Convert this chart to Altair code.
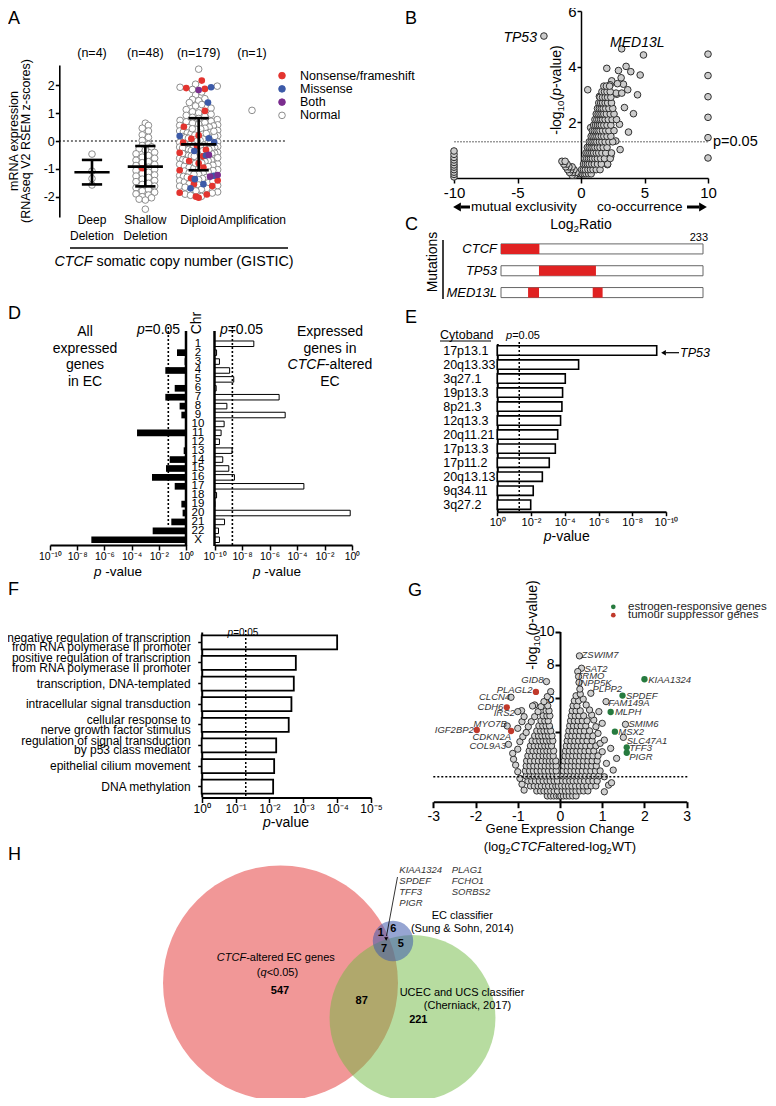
import altair as alt
import pandas as pd

W, H = 760, 1090
def px(v): return v - 8.0
def py(v): return v - 8.0
FONT = "Liberation Sans"

# ================= DATA =================
# ---- Panel A
A_groups = ["Deep Deletion", "Shallow Deletion", "Diploid", "Amplification"]
A_labels = ["Deep\nDeletion", "Shallow\nDeletion", "Diploid", "Amplification"]
A_counts = ["(n=4)", "(n=48)", "(n=179)", "(n=1)"]
A_mean = [-1.12, -0.92, -0.12]
A_sd_hi = [-0.68, -0.18, 0.82]
A_sd_lo = [-1.56, -1.63, -1.05]
A_legend = ["Nonsense/frameshift", "Missense", "Both", "Normal"]
A_colors = ["#e3342f", "#3c5aa8", "#7b2d8e", "#ffffff"]
A_deep_normal = [-0.47, -1.08, -1.35, -1.58]
A_shallow_normal = [0.64, 0.56, 0.46, 0.36, 0.22, 0.13, 0.02, -0.12, -0.16, -0.21, -0.28, -0.33,
                    -0.41, -0.46, -0.52, -0.58, -0.62, -0.69, -0.74, -0.78, -0.84, -0.88, -0.94,
                    -1.02, -1.06, -1.12, -1.17, -1.22, -1.26, -1.31, -1.37, -1.42, -1.46, -1.52,
                    -1.56, -1.62, -1.68, -1.74, -1.79, -1.84, -1.9, -1.94, -2.0, -2.04, -2.09,
                    -2.12, -2.45]
A_shallow_nonsense = [-0.98]
A_diploid_nonsense = [2.17, 1.9, 1.87, 1.08, 0.51, 0.2, 0.08, -0.06, -0.18, -0.32, -0.42, -0.55,
                      -0.72, -0.8, -0.95, -1.05, -1.34, -1.42, -1.55, -1.62, -1.86, -1.92, -2.0, -2.04]
A_diploid_missense = [1.93, 1.38, 0.18, 0.1, -0.05, -0.36, -0.52, -1.25, -1.37, -1.55, -1.7]
A_diploid_both = [1.83, -0.5, -1.22, -1.28]
A_diploid_normal = [2.58, 2.04, 1.97, 1.93, 1.85, 1.76, 1.65, 1.52, 1.49, 1.45, 1.38, 1.31, 1.26,
                    1.18, 1.13, 1.05, 1.01, 0.96, 0.92, 0.88, 0.85, 0.81, 0.77, 0.74,
                    0.71, 0.69, 0.66, 0.64, 0.61, 0.58, 0.56, 0.54, 0.5, 0.48, 0.46, 0.43, 0.41,
                    0.38, 0.36, 0.33, 0.31, 0.29, 0.26, 0.24, 0.21, 0.19, 0.16, 0.14, 0.12, 0.09,
                    0.07, 0.05, 0.02, 0.0, -0.03, -0.05, -0.08, -0.1, -0.13, -0.15, -0.17, -0.2,
                    -0.22, -0.24, -0.27, -0.29, -0.31, -0.34, -0.37, -0.39, -0.41, -0.44, -0.46,
                    -0.49, -0.52, -0.54, -0.57, -0.59, -0.62, -0.64, -0.67, -0.69, -0.71, -0.74,
                    -0.77, -0.79, -0.82, -0.84, -0.87, -0.9, -0.92, -0.95, -0.97, -1.0, -1.03,
                    -1.06, -1.08, -1.11, -1.14, -0.25, -0.35, -0.45, -0.06, 0.17, 0.27, -0.6,
                    -0.7, -0.15, 0.35, 0.44, -0.8, -0.55, 0.1, -0.3,
                    -1.17, -1.2, -1.24, -1.27, -1.31, -1.35, -1.39, -1.43, -1.47, -1.5, -1.54,
                    -1.58, -1.62, -1.66, -1.7, -1.74, -1.79, -1.83, -1.87, -1.91, -1.95, -1.99,
                    -1.45, -1.3, -1.6, -1.2]
A_amp_normal = [1.1]

# ---- Panel B (log2 ratio, -log10 p)
B_points = [(-10, 0.04), (-10, 0.13), (-10, 0.21), (-10, 0.3), (-10, 0.39), (-10, 0.47),
            (-10, 0.56), (-10, 0.65), (-10, 0.74), (-10, 0.85), (-10, 0.97),
            (10, 4.45), (10, 3.68), (10, 2.92), (10, 2.18), (10, 1.45), (10, 0.72),
            (-2.92, 5.1), (3.2, 4.64), (4.92, 4.42), (2.03, 3.94), (3.55, 4.01), (3.92, 3.82),
            (2.95, 3.86), (4.66, 3.70), (3.16, 3.6), (2.42, 3.49), (3.34, 3.37), (3.68, 3.17),
            (0.53, 3.17), (4.45, 2.99), (2.82, 3.01), (3.42, 2.53), (4.13, 2.31), (3.03, 1.93),
            (3.74, 1.65), (2.74, 1.33), (3.08, 1.02), (2.08, 0.48), (2.34, 0.78), (1.71, 0.9),
            (0.76, 1.81), (2.29, 3.35), (2.87, 3.39), (1.45, 2.93), (1.97, 3.11), (2.76, 3.05),
            (3.21, 3.05), (1.89, 3.17), (2.16, 3.29)]
B_rows = [(0.15, [-0.35, -0.2, -0.05, 0.1, 0.25, 0.4, 0.6, 0.8]),
          (0.3, [0.05, 0.2, 0.35, 0.55, 0.75, 0.95, 1.2, 1.5]),
          (0.5, [0.2, 0.35, 0.5, 0.65, 0.85, 1.05, 1.3, 1.6, 2.1]),
          (0.7, [0.3, 0.45, 0.6, 0.75, 0.9, 1.1, 1.3, 1.55, 1.85, 2.3]),
          (0.9, [0.4, 0.55, 0.7, 0.85, 1.0, 1.2, 1.4, 1.65, 1.95, 2.4]),
          (1.1, [0.5, 0.65, 0.8, 0.95, 1.1, 1.3, 1.5, 1.75, 2.05]),
          (1.3, [0.65, 0.8, 0.95, 1.1, 1.25, 1.45, 1.65, 1.9, 2.2, 2.5]),
          (1.5, [0.8, 0.95, 1.1, 1.25, 1.4, 1.6, 1.8, 2.05, 2.35]),
          (1.7, [0.9, 1.05, 1.2, 1.35, 1.5, 1.7, 1.95, 2.2, 2.6]),
          (1.9, [1.0, 1.15, 1.3, 1.45, 1.6, 1.8, 2.05, 2.35]),
          (2.1, [1.1, 1.25, 1.4, 1.55, 1.7, 1.9, 2.15, 2.45, 2.8]),
          (2.3, [1.2, 1.35, 1.5, 1.65, 1.8, 2.0, 2.3, 2.6]),
          (2.5, [1.3, 1.45, 1.6, 1.75, 1.95, 2.2, 2.5]),
          (2.7, [1.4, 1.55, 1.7, 1.9, 2.1, 2.4]),
          (2.9, [1.5, 1.7, 1.9, 2.1, 2.35]),
          (3.1, [1.65, 1.85, 2.05, 2.3]),
          (3.3, [1.8, 2.0, 2.25]),
          (0.1, [-0.5, -0.7]),
          (0.2, [-0.4, -0.65, -0.9]),
          (0.3, [-0.55, -0.8, -1.05]),
          (0.4, [-0.7, -0.95, -1.2]),
          (0.5, [-1.1, -1.35]),
          (0.6, [-1.5, -1.25])]
B_labels = [("TP53", -3.47, 5.04, "right"), ("MED13L", 2.29, 4.86, "left")]

# ---- Panel C (mutation positions, % of protein length)
C_genes = ["CTCF", "TP53", "MED13L"]
C_segments = [("CTCF", 0, 19), ("TP53", 18.8, 47), ("MED13L", 13.4, 18.8), ("MED13L", 45.4, 50.3)]

# ---- Panel D (log10 p-values per chromosome)
D_chr = [str(i) for i in range(1, 23)] + ["X"]
D_all_exp = [-0.02, -0.66, -0.1, -1.52, -0.05, -0.83, -1.52, -0.47, -0.34, -0.02, -3.6, -0.02,
             -0.17, -1.2, -1.47, -2.5, -0.83, -0.02, -0.34, -0.25, -1.08, -2.45, -6.96]
D_ctcf_exp = [-7.14, -9.85, -9.64, -8.9, -8.6, -9.88, -5.3, -9.1, -4.86, -9.3, -9.52, -9.64,
              -8.72, -9.4, -8.96, -8.55, -3.5, -9.85, -9.97, -0.13, -9.27, -9.71, -9.64]

# ---- Panel E
E_bands = ["17p13.1", "20q13.33", "3q27.1", "19p13.3", "8p21.3", "12q13.3", "20q11.21",
           "17p13.3", "17p11.2", "20q13.13", "9q34.11", "3q27.2"]
E_exp = [-9.45, -4.82, -4.03, -3.87, -3.83, -3.75, -3.58, -3.44, -3.08, -2.67, -2.13, -1.98]

# ---- Panel F
F_terms = ["negative regulation of transcription|from RNA polymerase II promoter",
           "positive regulation of transcription|from RNA polymerase II promoter",
           "transcription, DNA-templated",
           "intracellular signal transduction",
           "cellular response to|nerve growth factor stimulus",
           "regulation of signal transduction|by p53 class mediator",
           "epithelial cilium movement",
           "DNA methylation"]
F_exp = [-4.0, -2.78, -2.72, -2.65, -2.57, -2.2, -2.14, -2.11]

# ---- Panel G (log2 fold change, -log10 p)
G_rows = [(0.15, [-0.3, -0.22, -0.15, -0.08, -0.02, 0.02, 0.08, 0.15, 0.22, 0.3, 0.38]),
          (0.45, [-0.55, -0.46, -0.38, -0.3, -0.22, -0.14, -0.06, 0.05, 0.13, 0.21, 0.3, 0.38, 0.47, 0.56, 0.66]),
          (0.75, [-0.7, -0.61, -0.52, -0.44, -0.35, -0.27, -0.18, -0.1, -0.04, 0.04, 0.12, 0.2, 0.28, 0.37, 0.46, 0.55, 0.64, 0.74, 0.85]),
          (1.05, [-0.76, -0.67, -0.58, -0.49, -0.4, -0.31, -0.23, -0.14, -0.06, 0.06, 0.14, 0.23, 0.31, 0.4, 0.49, 0.58, 0.68, 0.78, 0.88]),
          (1.35, [-0.8, -0.7, -0.61, -0.52, -0.43, -0.34, -0.25, -0.16, -0.07, 0.07, 0.16, 0.25, 0.34, 0.43, 0.52, 0.61, 0.71, 0.81, 0.92]),
          (1.65, [-0.82, -0.72, -0.63, -0.54, -0.45, -0.36, -0.27, -0.18, -0.09, 0.08, 0.17, 0.26, 0.35, 0.44, 0.53, 0.63, 0.73, 0.84, 0.95]),
          (1.95, [-0.8, -0.71, -0.62, -0.53, -0.44, -0.35, -0.26, -0.17, -0.09, 0.09, 0.18, 0.27, 0.36, 0.45, 0.55, 0.65, 0.75, 0.86]),
          (2.25, [-0.79, -0.7, -0.6, -0.51, -0.42, -0.33, -0.25, -0.17, -0.1, 0.1, 0.19, 0.28, 0.37, 0.46, 0.56, 0.66, 0.76, 0.88]),
          (2.55, [-0.76, -0.67, -0.58, -0.49, -0.4, -0.32, -0.24, -0.16, 0.12, 0.21, 0.3, 0.39, 0.48, 0.57, 0.67, 0.78, 0.9]),
          (2.85, [-0.73, -0.64, -0.55, -0.47, -0.39, -0.31, -0.23, -0.15, 0.13, 0.22, 0.31, 0.4, 0.49, 0.59, 0.69, 0.8]),
          (3.15, [-0.7, -0.61, -0.52, -0.44, -0.36, -0.28, -0.2, 0.15, 0.24, 0.33, 0.42, 0.51, 0.61, 0.72, 0.85]),
          (3.45, [-0.66, -0.57, -0.48, -0.4, -0.32, -0.24, -0.17, 0.17, 0.26, 0.35, 0.44, 0.54, 0.64, 0.76]),
          (3.75, [-0.6, -0.51, -0.43, -0.35, -0.27, -0.19, 0.19, 0.28, 0.37, 0.46, 0.56, 0.67, 0.78]),
          (4.05, [-0.55, -0.46, -0.38, -0.3, -0.22, 0.21, 0.3, 0.39, 0.48, 0.58, 0.7]),
          (4.35, [-0.5, -0.41, -0.33, -0.25, 0.23, 0.32, 0.41, 0.5, 0.61]),
          (4.65, [-0.45, -0.36, -0.28, 0.25, 0.34, 0.43, 0.53, 0.64]),
          (4.95, [-0.4, -0.31, -0.24, 0.27, 0.36, 0.45, 0.56]),
          (5.25, [-0.33, -0.26, 0.29, 0.38, 0.48]),
          (5.55, [-0.29, 0.31, 0.4]),
          (5.85, [0.34, 0.44]),
          (6.15, [0.38])]
G_outer = [(-0.85, 0.5), (-0.9, 0.85), (-0.95, 1.2), (-1.0, 1.6), (-1.05, 2.0), (-1.1, 2.35),
           (-1.12, 2.7), (-1.0, 2.95), (-0.95, 3.4), (-0.88, 3.7), (-0.8, 3.95), (-0.75, 4.3),
           (-0.68, 4.6), (-0.6, 4.9), (-0.52, 5.2), (-0.45, 5.5), (-0.38, 5.8), (-0.3, 6.1),
           (-0.22, 6.4), (-0.9, 4.6), (-0.85, 4.9), (-1.0, 4.2), (-0.6, 5.6),
           (1.05, 0.4), (1.15, 0.8), (1.22, 0.94), (1.26, 1.7), (1.34, 2.4), (1.1, 2.1),
           (1.05, 1.3), (1.0, 2.8), (0.95, 3.3), (1.05, 3.5), (0.9, 3.9), (0.85, 4.3),
           (0.8, 4.7), (0.75, 5.0), (0.7, 5.3), (0.62, 5.6), (0.55, 5.95), (0.48, 6.25),
           (1.2, 3.0), (1.0, 4.5), (0.92, 5.2),
           (0.46, 8.54), (0.51, 7.8), (0.42, 7.6), (0.44, 7.3), (0.45, 6.95), (0.47, 6.55),
           (0.73, 6.3), (1.09, 5.8), (1.55, 4.44), (1.5, 3.66), (-0.32, 7.0), (-1.16, 6.06),
           (-0.91, 5.26), (-1.0, 5.2), (-0.65, 5.54), (-1.25, 4.34), (-1.22, 3.24)]
G_estrogen = [(2.0, 7.14), (1.48, 6.16), (1.2, 5.18), (1.3, 4.0), (1.58, 3.06), (1.58, 2.74)]
G_suppressor = [(-0.57, 6.38), (-1.26, 5.46), (-1.97, 4.1), (-1.16, 4.04)]
G_labels = [("ZSWIM7", 0.51, 8.6, "left"), ("SAT2", 0.58, 7.76, "left"), ("TRMO", 0.39, 7.34, "left"),
            ("INPP5K", 0.42, 6.9, "left"), ("PLPP2", 0.77, 6.54, "left"), ("KIAA1324", 2.09, 7.1, "left"),
            ("SPDEF", 1.56, 6.16, "left"), ("FAM149A", 1.14, 5.7, "left"), ("MLPH", 1.3, 5.2, "left"),
            ("SMIM6", 1.62, 4.44, "left"), ("MSX2", 1.38, 3.96, "left"), ("SLC47A1", 1.58, 3.46, "left"),
            ("TFF3", 1.64, 3.0, "left"), ("PIGR", 1.64, 2.5, "left"),
            ("GID8", -0.39, 7.1, "right"), ("PLAGL2", -0.65, 6.5, "right"), ("CLCN4", -1.18, 6.06, "right"),
            ("CDH6", -1.34, 5.46, "right"), ("IRS2", -1.07, 5.1, "right"), ("MYO7B", -1.26, 4.44, "right"),
            ("IGF2BP2", -2.04, 4.1, "right"), ("CDKN2A", -1.16, 3.7, "right"), ("COL9A3", -1.28, 3.14, "right")]
G_legend = ["estrogen-responsive genes", "tumour suppressor genes"]
G_colors = ["#267a3e", "#c0392b"]

# ---- Panel H (Venn counts)
H_sets = ["CTCF-altered EC genes", "UCEC and UCS classifier", "EC classifier"]
H_set_totals = [547 + 87 + 7 + 1, 221 + 87 + 7 + 5, 1 + 6 + 7 + 5]
H_region_counts = [547, 87, 221, 1, 6, 5, 7]
H_genes_a = ["KIAA1324", "SPDEF", "TFF3", "PIGR"]
H_genes_b = ["PLAG1", "FCHO1", "SORBS2"]

# ================= layout helpers =================
def lin(domain, rng):
    return alt.Scale(domain=domain, range=rng, nice=False, zero=False)

def logsc(domain, rng):
    return alt.Scale(type="log", domain=domain, range=rng, nice=False)

def bandsc(domain, rng, p):
    return alt.Scale(domain=domain, range=rng, paddingInner=p, paddingOuter=p / 2)

AXBASE = dict(grid=False, domainColor="black", tickColor="black", labelColor="black",
              labelFont=FONT, title=None, labelOverlap=False, labelFlush=False, labelBound=False)

def axis_left(xpix, **kw):
    d = dict(AXBASE); d.update(orient="left", offset=-px(xpix)); d.update(kw)
    return alt.Axis(**d)

def axis_bottom(ypix, **kw):
    d = dict(AXBASE); d.update(orient="bottom", offset=py(ypix) - H); d.update(kw)
    return alt.Axis(**d)

SUP = str.maketrans("-0123456789", "\u207b\u2070\u00b9\u00b2\u00b3\u2074\u2075\u2076\u2077\u2078\u2079")
def pow_expr(exps):
    e = "''"
    for k in exps:
        e = "(abs(log(datum.value)/LN10 - (%d)) < 0.01 ? '10%s' : %s)" % (k, str(k).translate(SUP), e)
    return e

PLAIN = "'' + datum.value"

CW = {' ': .278, '!': .278, '(': .333, ')': .333, '-': .333, '.': .278, ',': .278, '/': .278,
      '=': .584, '<': .584, '&': .667}
for ch in "0123456789": CW[ch] = .556
CW.update(dict(A=.667, B=.667, C=.722, D=.722, E=.667, F=.611, G=.778, H=.722, I=.278, J=.5, K=.667,
               L=.556, M=.833, N=.722, O=.778, P=.667, Q=.778, R=.722, S=.667, T=.611, U=.722, V=.667,
               W=.944, X=.667, Y=.667, Z=.611, a=.556, b=.556, c=.5, d=.556, e=.556, f=.278, g=.556,
               h=.556, i=.222, j=.222, k=.5, l=.222, m=.833, n=.556, o=.556, p=.556, q=.556, r=.333,
               s=.5, t=.278, u=.556, v=.5, w=.722, x=.5, y=.5, z=.5))
def tw(s, size):
    return sum(CW.get(c, .556) for c in s) * size

ANN = {}
def T(text, x, y, size=12, italic=False, bold=False, align="center", baseline="middle",
      angle=0, lh=None, color="black"):
    key = (italic, bold, align, baseline, lh, color)
    ANN.setdefault(key, []).append(dict(text=text, x=px(x), y=py(y), size=size, angle=angle))

def M(parts, x, y, size, align="center", angle=0):
    norm = []
    for p in parts:
        sc = p[2] if len(p) > 2 else 1.0
        dy = p[3] if len(p) > 3 else 0.0
        norm.append((p[0], p[1], size * sc, dy))
    total = sum(tw(t, s) for t, it, s, dy in norm)
    u = -total / 2 if align == "center" else (-total if align == "right" else 0)
    for t, it, s, dy in norm:
        lead = len(t) - len(t.lstrip(" "))
        uu = u + tw(" " * lead, s)
        if angle == 0:
            X, Y = x + uu, y + dy
        else:
            X, Y = x + dy, y - uu
        T(t.strip(" "), X, Y, size=s, italic=it, align="left", angle=angle)
        u += tw(t, s)

RULES = []
def R(x1, y1, x2, y2, w=1.0, color="black"):
    RULES.append(dict(x=px(x1), y=py(y1), x2=px(x2), y2=py(y2), w=w, c=color))

TRI = []
def TR(x, y, shape, size):
    TRI.append(dict(x=px(x), y=py(y), shape=shape, size=size))

layers = []
P = lambda f: alt.X(f, scale=None, axis=None)
Q = lambda f: alt.Y(f, scale=None, axis=None)

# ================= Panel A =================
xA = lin([0, 3], [px(92), px(252)])
yA = lin([-2.73, 2.73], [py(217), py(65)])
rowsA = []
def addA(ci, vals, typ):
    for v in vals:
        rowsA.append(dict(ci=ci, v=v, t=typ))
addA(0, A_deep_normal, "Normal")
addA(1, A_shallow_normal, "Normal"); addA(1, A_shallow_nonsense, "Nonsense/frameshift")
addA(2, A_diploid_normal, "Normal"); addA(2, A_diploid_nonsense, "Nonsense/frameshift")
addA(2, A_diploid_missense, "Missense"); addA(2, A_diploid_both, "Both")
addA(3, A_amp_normal, "Normal")
dfA = pd.DataFrame(rowsA)
UNIT = (252 - 92) / 3.0
xs = [0.0] * len(dfA)
for ci, g in dfA.groupby("ci"):
    g = g.sort_values("v")
    binid = ((g["v"] + 3.0) / 0.2).astype(int)
    for b, gb in g.groupby(binid):
        k = len(gb)
        step = 6.2
        if k > 1 and (k - 1) * step > 38:
            step = 38.0 / (k - 1)
        pos = sorted([(j - (k - 1) / 2.0) * step for j in range(k)], key=lambda q: (abs(q), q))
        for idx, p in zip(gb.index, pos):
            xs[idx] = ci + p / UNIT
dfA["x"] = xs

layers.append(alt.Chart(pd.DataFrame({"x": [-0.62], "x2": [3.62], "y": [0.0]})).mark_rule(
    color="black", strokeWidth=1.2, strokeDash=[2, 2]).encode(
    x=alt.X("x:Q", scale=xA, axis=None), x2="x2:Q",
    y=alt.Y("y:Q", scale=yA, axis=axis_left(59.3, values=[-2, -1, 0, 1, 2], labelExpr=PLAIN,
            labelFontSize=12.5, tickSize=4, labelPadding=1, domainWidth=1.6, tickWidth=1.6))))
layers.append(alt.Chart(dfA[dfA.t == "Normal"]).mark_circle(
    size=44, fill="white", stroke="#808080", strokeWidth=0.9, opacity=1).encode(
    x=alt.X("x:Q", scale=xA, axis=None), y=alt.Y("v:Q", scale=yA, axis=None)))
layers.append(alt.Chart(dfA[dfA.t != "Normal"]).mark_circle(size=44, opacity=1, strokeWidth=0).encode(
    x=alt.X("x:Q", scale=xA, axis=None), y=alt.Y("v:Q", scale=yA, axis=None),
    color=alt.Color("t:N", scale=alt.Scale(domain=A_legend[:3], range=A_colors[:3]), legend=None)))
dfS = pd.DataFrame({"ci": [0, 1, 2], "m": A_mean, "hi": A_sd_hi, "lo": A_sd_lo})
dfS["a"] = dfS.ci - 0.33; dfS["b"] = dfS.ci + 0.33
dfS["ca"] = dfS.ci - 0.19; dfS["cb"] = dfS.ci + 0.19
layers.append(alt.Chart(dfS).mark_rule(color="black", strokeWidth=2.6).encode(
    x=alt.X("a:Q", scale=xA, axis=None), x2="b:Q", y=alt.Y("m:Q", scale=yA, axis=None)))
layers.append(alt.Chart(dfS).mark_rule(color="black", strokeWidth=2.6).encode(
    x=alt.X("ci:Q", scale=xA, axis=None), y=alt.Y("lo:Q", scale=yA, axis=None), y2="hi:Q"))
for f in ["lo", "hi"]:
    layers.append(alt.Chart(dfS).mark_rule(color="black", strokeWidth=2.6).encode(
        x=alt.X("ca:Q", scale=xA, axis=None), x2="cb:Q", y=alt.Y(f + ":Q", scale=yA, axis=None)))
dfAl = pd.DataFrame({"ci": [0, 1, 2, 3], "lab": A_labels, "n": A_counts})
layers.append(alt.Chart(dfAl).mark_text(font=FONT, fontSize=12, baseline="top", lineBreak="\n",
                                        lineHeight=15.6, color="black").encode(
    x=alt.X("ci:Q", scale=xA, axis=None), y=alt.value(py(215)), text="lab:N"))
layers.append(alt.Chart(dfAl).mark_text(font=FONT, fontSize=12.5, color="black").encode(
    x=alt.X("ci:Q", scale=xA, axis=None), y=alt.value(py(53)), text="n:N"))
dfAL = pd.DataFrame({"name": A_legend})
yAL = alt.Scale(type="point", domain=A_legend, range=[py(69), py(122)])
layers.append(alt.Chart(dfAL).mark_circle(size=44, opacity=1, strokeWidth=0.9).encode(
    x=alt.value(px(282)), y=alt.Y("name:N", scale=yAL, axis=None),
    fill=alt.Fill("name:N", scale=alt.Scale(domain=A_legend, range=A_colors), legend=None),
    stroke=alt.Stroke("name:N", scale=alt.Scale(domain=A_legend, range=A_colors[:3] + ["#808080"]), legend=None)))
layers.append(alt.Chart(dfAL).mark_text(font=FONT, fontSize=12.5, align="left", color="black").encode(
    x=alt.value(px(300)), y=alt.Y("name:N", scale=yAL, axis=None), text="name:N"))
T("A", 8, 19, 18, align="left")
T("mRNA expression\n(RNAseq V2 RSEM z-scores)", 13.5, 141, 12.5, angle=270, lh=12)
R(70, 248, 288, 248, 1.3)
M([("CTCF", True), (" somatic copy number (GISTIC)", False)], 174, 262, 14.3)

# ================= Panel B =================
xB = lin([-10, 10], [px(454), px(708)])
yB = lin([0, 6], [py(178), py(11)])
bp = list(B_points)
for yv, xl in B_rows:
    for xv in xl:
        bp.append((xv, yv))
dfB = pd.DataFrame(bp, columns=["x", "y"])
layers.append(alt.Chart(pd.DataFrame({"x": [-10], "x2": [10], "y": [1.3]})).mark_rule(
    color="#444", strokeWidth=0.8, strokeDash=[2, 1]).encode(
    x=alt.X("x:Q", scale=xB, axis=axis_bottom(178, values=[-10, -5, 0, 5, 10], labelExpr=PLAIN,
            labelFontSize=15, tickSize=5, labelPadding=2, domainWidth=1.5, tickWidth=1.5)),
    x2="x2:Q",
    y=alt.Y("y:Q", scale=yB, axis=axis_left(581, values=[2, 4, 6], labelFontSize=15, tickSize=4,
            labelPadding=1, domainWidth=1.5, tickWidth=1.5))))
layers.append(alt.Chart(dfB).mark_circle(size=44, fill="#cccccc", stroke="#2e2e2e",
                                         strokeWidth=1.0, opacity=1).encode(
    x=alt.X("x:Q", scale=xB, axis=None), y=alt.Y("y:Q", scale=yB, axis=None)))
dfBl = pd.DataFrame(B_labels, columns=["t", "x", "y", "al"])
for al in ["left", "right"]:
    layers.append(alt.Chart(dfBl[dfBl.al == al]).mark_text(
        font=FONT, fontSize=14, fontStyle="italic", align=al, color="black").encode(
        x=alt.X("x:Q", scale=xB, axis=None), y=alt.Y("y:Q", scale=yB, axis=None), text="t:N"))
T("B", 405, 19, 18, align="left")
T("p=0.05", 713, 142, 14.5, align="left")
M([("-log", False), ("10", False, 0.7, 4), ("(", False), ("p", True), ("-value)", False)], 557, 90, 14, angle=270)
TR(457, 207, "triangle-left", 80); R(461, 207, 470, 207, 3)
T("mutual exclusivity", 471, 207, 13.5, align="left")
T("co-occurrence", 597, 207, 13.5, align="left")
R(687, 207, 699, 207, 3); TR(703, 207, "triangle-right", 80)
M([("Log", False), ("2", False, 0.7, 4), ("Ratio", False)], 581, 225, 14)

# ================= Panel C =================
xC = lin([0, 100], [px(501), px(703)])
yC = bandsc(C_genes, [py(238), py(303.5)], 0.54)
dfC = pd.DataFrame({"g": C_genes, "a": [0] * 3, "b": [100] * 3})
layers.append(alt.Chart(dfC).mark_bar(fill="white", stroke="#666", strokeWidth=1).encode(
    x=alt.X("a:Q", scale=xC, axis=None), x2="b:Q", y=alt.Y("g:N", scale=yC, axis=None)))
layers.append(alt.Chart(pd.DataFrame(C_segments, columns=["g", "a", "b"])).mark_bar(color="#e02222").encode(
    x=alt.X("a:Q", scale=xC, axis=None), x2="b:Q", y=alt.Y("g:N", scale=yC, axis=None)))
layers.append(alt.Chart(dfC).mark_text(font=FONT, fontSize=13, fontStyle="italic", align="right", color="black").encode(
    x=alt.value(px(497)), y=alt.Y("g:N", scale=yC, axis=None), text="g:N"))
T("C", 405, 225, 18, align="left")
T("233", 708, 238, 11, align="right")
T("Mutations", 433, 262, 14, angle=270)
R(443, 240, 443, 299, 1.5)

# ================= Panel D =================
yD1 = bandsc(D_chr, [py(339.3), py(544.2)], 0.25)
yD2 = bandsc(D_chr, [py(339.3), py(544.2)], 0.38)
xDL = logsc([1e-10, 1], [px(50), px(186)])
xDR = logsc([1e-10, 1], [px(214.5), px(352)])
decD = [-10, -8, -6, -4, -2, 0]
dfD = pd.DataFrame({"chr": D_chr, "pa": [10 ** e for e in D_all_exp], "pc": [10 ** e for e in D_ctcf_exp]})
dfD["one"] = 1.0; dfD["low"] = 1e-10
axD = dict(values=[10.0 ** e for e in decD], labelExpr=pow_expr(decD), labelFontSize=10.5,
           tickSize=5, labelPadding=1, domainWidth=2.2, tickWidth=1.5)
layers.append(alt.Chart(dfD).mark_bar(color="black").encode(
    x=alt.X("pa:Q", scale=xDL, axis=axis_bottom(545, **axD)), x2="one:Q",
    y=alt.Y("chr:N", scale=yD1, axis=None)))
layers.append(alt.Chart(dfD).mark_bar(fill="white", stroke="black", strokeWidth=1).encode(
    x=alt.X("low:Q", scale=xDR, axis=axis_bottom(545, **axD)), x2="pc:Q",
    y=alt.Y("chr:N", scale=yD2, axis=None)))
layers.append(alt.Chart(pd.DataFrame({"p": [1.0]})).mark_rule(color="black", strokeWidth=2.5).encode(
    x=alt.X("p:Q", scale=xDL, axis=None), y=alt.value(py(331)), y2=alt.value(py(546))))
layers.append(alt.Chart(pd.DataFrame({"p": [1e-10]})).mark_rule(color="black", strokeWidth=2.5).encode(
    x=alt.X("p:Q", scale=xDR, axis=None), y=alt.value(py(331)), y2=alt.value(py(546))))
layers.append(alt.Chart(pd.DataFrame({"p": [0.05]})).mark_rule(color="black", strokeWidth=1.6, strokeDash=[2, 2]).encode(
    x=alt.X("p:Q", scale=xDL, axis=None), y=alt.value(py(327)), y2=alt.value(py(525))))
layers.append(alt.Chart(pd.DataFrame({"p": [10 ** -8.7]})).mark_rule(color="black", strokeWidth=1.6, strokeDash=[2, 2]).encode(
    x=alt.X("p:Q", scale=xDR, axis=None), y=alt.value(py(327)), y2=alt.value(py(545))))
layers.append(alt.Chart(dfD).mark_text(font=FONT, fontSize=11.5, color="black", fill="black").encode(
    x=alt.value(px(198)), y=alt.Y("chr:N", scale=yD1, axis=None), text="chr:N"))
T("D", 8, 314, 18, align="left")
T("All\nexpressed\ngenes\nin EC", 85, 332, 14, lh=16.6)
T("Expressed", 330, 332, 14); T("genes in", 330, 348.5, 14)
M([("CTCF", True), ("-altered", False)], 330, 365, 14)
T("EC", 330, 382, 14)
M([("p", True), ("=0.05", False)], 158.5, 330, 14)
M([("p", True), ("=0.05", False)], 241.5, 330, 14)
T("Chr", 197, 323, 14, angle=270)
M([("p", True), (" -value", False)], 118, 572, 13.5)
M([("p", True), (" -value", False)], 277, 572, 13.5)

# ================= Panel E =================
yE = bandsc(E_bands, [py(343.5), py(511.7)], 0.33)
xE = logsc([1e-10, 1], [px(666), px(497.3)])
decE = [0, -2, -4, -6, -8, -10]
dfE = pd.DataFrame({"b": E_bands, "p": [10 ** e for e in E_exp]}); dfE["one"] = 1.0
layers.append(alt.Chart(dfE).mark_bar(fill="white", stroke="black", strokeWidth=1.6).encode(
    x=alt.X("p:Q", scale=xE, axis=axis_bottom(511.7, values=[10.0 ** e for e in decE], labelExpr=pow_expr(decE),
            labelFontSize=11, tickSize=4, labelPadding=1, domainWidth=2, tickWidth=1.5)),
    x2="one:Q",
    y=alt.Y("b:N", scale=yE, axis=axis_left(497.3, labelAlign="left", labelPadding=54.6, ticks=False,
            tickSize=0, labelFontSize=12.5, domainWidth=2))))
layers.append(alt.Chart(pd.DataFrame({"p": [0.05]})).mark_rule(color="black", strokeWidth=1.5, strokeDash=[2, 2]).encode(
    x=alt.X("p:Q", scale=xE, axis=None), y=alt.value(py(342)), y2=alt.value(py(511))))
T("E", 405, 318, 18, align="left")
T("Cytoband", 440, 334.5, 12.5, align="left"); R(440, 341, 491, 341, 1)
M([("p", True), ("=0.05", False)], 523, 336, 11)
M([("p", True), ("-value", False)], 566.7, 537, 14)
TR(663.5, 352.7, "triangle-left", 30); R(666, 352.7, 679, 352.7, 1.2)
T("TP53", 680, 352.7, 12.5, italic=True, align="left")

# ================= Panel F =================
yF = bandsc(F_terms, [py(632), py(797)], 0.32)
xF = logsc([1e-5, 1], [px(371), px(201.7)])
decF = [0, -1, -2, -3, -4, -5]
dfF = pd.DataFrame({"t": F_terms, "p": [10 ** e for e in F_exp]}); dfF["one"] = 1.0
dfF["lab"] = [t.replace("|", "\n") for t in F_terms]
dfF["two"] = ["|" in t for t in F_terms]
layers.append(alt.Chart(dfF).mark_bar(fill="white", stroke="black", strokeWidth=1.8).encode(
    x=alt.X("p:Q", scale=xF, axis=axis_bottom(797.5, values=[10.0 ** e for e in decF], labelExpr=pow_expr(decF),
            labelFontSize=12, tickSize=5, labelPadding=1, domainWidth=2, tickWidth=1.5)),
    x2="one:Q",
    y=alt.Y("t:N", scale=yF, axis=axis_left(201.7, labels=False, tickSize=4, domainWidth=2, tickWidth=1.5))))
layers.append(alt.Chart(dfF[~dfF.two]).mark_text(font=FONT, fontSize=12, align="right", color="black").encode(
    x=alt.value(px(190.7)), y=alt.Y("t:N", scale=yF, axis=None), text="lab:N"))
layers.append(alt.Chart(dfF[dfF.two]).mark_text(font=FONT, fontSize=12, align="right", color="black",
                                                lineBreak="\n", lineHeight=9.5, dy=-4.75).encode(
    x=alt.value(px(190.7)), y=alt.Y("t:N", scale=yF, axis=None), text="lab:N"))
layers.append(alt.Chart(pd.DataFrame({"p": [0.05]})).mark_rule(color="black", strokeWidth=1.5, strokeDash=[2, 2]).encode(
    x=alt.X("p:Q", scale=xF, axis=None), y=alt.value(py(630)), y2=alt.value(py(797))))
T("F", 8, 590, 18, align="left")
M([("p", True), ("=0.05", False)], 243, 633, 10)
M([("p", True), ("-value", False)], 286, 823, 14)

# ================= Panel G =================
xG = lin([-3, 3], [px(433.3), px(686.7)])
yG = lin([-0.2, 10], [py(801.8), py(631.5)])
gp = []
for yv, xl in G_rows:
    for xv in xl:
        gp.append((xv, yv))
gp += G_outer
dfG = pd.DataFrame(gp, columns=["x", "y"])
layers.append(alt.Chart(dfG).mark_circle(size=40, fill="#d0d0d0", stroke="#222222", strokeWidth=0.9, opacity=1).encode(
    x=alt.X("x:Q", scale=xG, axis=axis_bottom(801.7, values=[-3, -2, -1, 0, 1, 2, 3], labelExpr=PLAIN,
            labelFontSize=14, tickSize=6, labelPadding=2, domainWidth=2, tickWidth=2)),
    y=alt.Y("y:Q", scale=yG, axis=axis_left(560, values=[2, 4, 6, 8, 10], labelFontSize=14, tickSize=5,
            labelPadding=1, domainWidth=2, tickWidth=2))))
for pts, col in [(G_estrogen, G_colors[0]), (G_suppressor, G_colors[1])]:
    layers.append(alt.Chart(pd.DataFrame(pts, columns=["x", "y"])).mark_circle(size=40, color=col, opacity=1).encode(
        x=alt.X("x:Q", scale=xG, axis=None), y=alt.Y("y:Q", scale=yG, axis=None)))
layers.append(alt.Chart(pd.DataFrame({"x": [-3], "x2": [3.05], "y": [1.3]})).mark_rule(
    color="black", strokeWidth=1.6, strokeDash=[2, 2]).encode(
    x=alt.X("x:Q", scale=xG, axis=None), x2="x2:Q", y=alt.Y("y:Q", scale=yG, axis=None)))
dfGl = pd.DataFrame(G_labels, columns=["t", "x", "y", "al"])
for al in ["left", "right"]:
    layers.append(alt.Chart(dfGl[dfGl.al == al]).mark_text(
        font=FONT, fontSize=9.5, fontStyle="italic", align=al, color="#333").encode(
        x=alt.X("x:Q", scale=xG, axis=None), y=alt.Y("y:Q", scale=yG, axis=None), text="t:N"))
dfGL = pd.DataFrame({"name": G_legend})
yGL = alt.Scale(type="point", domain=G_legend, range=[py(602.7), py(619.3)])
layers.append(alt.Chart(dfGL).mark_circle(size=22, opacity=1).encode(
    x=alt.value(px(613.3)), y=alt.Y("name:N", scale=yGL, axis=None),
    color=alt.Color("name:N", scale=alt.Scale(domain=G_legend, range=G_colors), legend=None)))
layers.append(alt.Chart(dfGL).mark_text(font=FONT, fontSize=11.5, align="left", color="#222").encode(
    x=alt.value(px(628)), y=alt.Y("name:N", scale=yGL, axis=None), text="name:N"))
T("G", 408, 591, 18, align="left")
M([("-log", False), ("10", False, 0.7, 4), ("(", False), ("p", True), ("-value)", False)], 533, 625, 14, angle=270)
T("Gene Expression Change", 560, 829.3, 13)
M([("(log", False), ("2", False, 0.7, 4), ("CTCF", True), ("altered-log", False), ("2", False, 0.7, 4),
   ("WT)", False)], 560, 846.7, 13)

# ================= Panel H =================
H_layout = {"CTCF-altered EC genes": (280.5, 983), "UCEC and UCS classifier": (412.5, 1018),
            "EC classifier": (393, 941)}
H_style = {"CTCF-altered EC genes": ("#f19797", 1.0), "UCEC and UCS classifier": ("#6fba42", 0.5),
           "EC classifier": ("#405bad", 0.55)}
sizeH = alt.Scale(domain=[0, max(H_set_totals)], range=[0, max(H_set_totals) * 86])
for name, tot in zip(H_sets, H_set_totals):
    cx, cy = H_layout[name]
    col, op = H_style[name]
    layers.append(alt.Chart(pd.DataFrame({"n": [tot], "x": [px(cx)], "y": [py(cy)]})).mark_circle(
        color=col, opacity=op, strokeWidth=0).encode(
        x=P("x:Q"), y=Q("y:Q"), size=alt.Size("n:Q", scale=sizeH, legend=None)))
H_region_pos = [(280, 991), (361.7, 1001), (418.3, 1020), (380.7, 933.3), (393.3, 929.3), (400.7, 944.3), (384, 949.3)]
for cnt, (x, y) in zip(H_region_counts, H_region_pos):
    T(str(cnt), x, y, 11, bold=True)
T("H", 8, 855, 18, align="left")
for i, g in enumerate(H_genes_a):
    T(g, 399.3, 870 + i * 10.9, 9.5, italic=True, align="left", color="#333")
for i, g in enumerate(H_genes_b):
    T(g, 451.7, 870 + i * 11, 9.5, italic=True, align="left", color="#333")
R(397.5, 877, 386.5, 936, 0.8); TR(386.2, 939, "triangle-down", 16)
T("EC classifier", 462.3, 916, 11)
T("(Sung & Sohn, 2014)", 462.3, 929.3, 11)
M([("CTCF", True), ("-altered EC genes", False)], 275.8, 957.7, 11)
M([("(", False), ("q", True), ("<0.05)", False)], 277.5, 972.7, 11)
T("UCEC and UCS classifier", 462, 992.7, 11)
T("(Cherniack, 2017)", 467.5, 1006, 11)

# ================= annotation layers =================
layers.append(alt.Chart(pd.DataFrame(RULES)).mark_rule().encode(
    x=P("x:Q"), y=Q("y:Q"), x2="x2:Q", y2="y2:Q",
    strokeWidth=alt.StrokeWidth("w:Q", scale=None), color=alt.Color("c:N", scale=None)))
layers.append(alt.Chart(pd.DataFrame(TRI)).mark_point(filled=True, color="black", opacity=1).encode(
    x=P("x:Q"), y=Q("y:Q"), shape=alt.Shape("shape:N", scale=None), size=alt.Size("size:Q", scale=None)))
for (italic, bold, align, baseline, lh, color), rows in ANN.items():
    kw = dict(align=align, baseline=baseline, font=FONT, fontStyle="italic" if italic else "normal",
              fontWeight="bold" if bold else "normal", color=color, lineBreak="\n")
    if lh:
        kw["lineHeight"] = lh
    layers.append(alt.Chart(pd.DataFrame(rows)).mark_text(**kw).encode(
        x=P("x:Q"), y=Q("y:Q"), text="text:N",
        size=alt.Size("size:Q", scale=None), angle=alt.Angle("angle:Q", scale=None)))

chart = alt.layer(*layers).resolve_scale(
    x="independent", y="independent", color="independent", fill="independent",
    stroke="independent", size="independent", shape="independent"
).properties(
    width=W, height=H, autosize=alt.AutoSizeParams(type="none"), padding=0, background="white"
).configure_view(strokeWidth=0).configure_text(font=FONT)

chart.save("out.html", embed_options={"renderer": "svg", "actions": False})
